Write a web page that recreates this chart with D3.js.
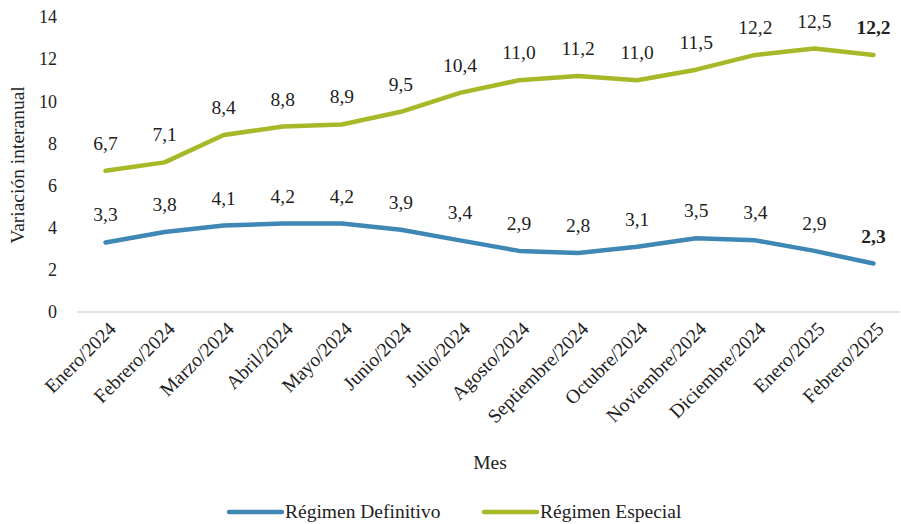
<!DOCTYPE html>
<html>
<head>
<meta charset="utf-8">
<script src="https://cdn.jsdelivr.net/npm/d3@7"></script>
<style>
body { margin:0; background:#fff; }
text { font-family: "Liberation Serif", serif; fill:#222; }
</style>
</head>
<body>
<svg width="901" height="524"></svg>
<script>
var months = ["Enero/2024","Febrero/2024","Marzo/2024","Abril/2024","Mayo/2024","Junio/2024","Julio/2024","Agosto/2024","Septiembre/2024","Octubre/2024","Noviembre/2024","Diciembre/2024","Enero/2025","Febrero/2025"]
var definitivo = [3.3,3.8,4.1,4.2,4.2,3.9,3.4,2.9,2.8,3.1,3.5,3.4,2.9,2.3]
var especial = [6.7,7.1,8.4,8.8,8.9,9.5,10.4,11.0,11.2,11.0,11.5,12.2,12.5,12.2]
var yTicks = [0,2,4,6,8,10,12,14]
var seriesNames = ["Régimen Definitivo","Régimen Especial"]
var colors = ["#3f88b6","#a7b928"]

var svg = d3.select("svg")
var plot = {left:76, right:903, top:17, bottom:312}

var xScale = d3.scalePoint()
               .domain(months)
               .range([plot.left, plot.right])
               .padding(0.5)

var yScale = d3.scaleLinear()
               .domain([0,14])
               .range([plot.bottom, plot.top])

// baseline
svg.append("line")
   .attr("x1", 77).attr("x2", 900)
   .attr("y1", yScale(0)).attr("y2", yScale(0))
   .attr("stroke","#d9d9d9").attr("stroke-width",1.5)

// y axis labels
var yAxis = d3.axisLeft(yScale).tickValues(yTicks).tickSize(0).tickPadding(0)
svg.append("g")
   .attr("transform","translate(57,0)")
   .call(yAxis)
   .call(function(g){ g.select(".domain").remove() })
   .selectAll("text")
   .attr("font-size",18)
   .attr("font-family","Liberation Serif")
   .attr("fill","#222")

// x axis labels
var xAxis = d3.axisBottom(xScale).tickSize(0).tickPadding(0)
svg.append("g")
   .attr("transform","translate(0,"+plot.bottom+")")
   .call(xAxis)
   .call(function(g){ g.select(".domain").remove() })
   .selectAll("text")
   .attr("font-size",19.5)
   .attr("font-family","Liberation Serif")
   .attr("fill","#222")
   .attr("text-anchor","end")
   .attr("dy",0)
   .attr("transform","translate(11,18) rotate(-45)")

// titles
svg.append("text")
   .attr("transform","translate(24,165) rotate(-90)")
   .attr("text-anchor","middle")
   .attr("font-size",19.5)
   .text("Variación interanual")

svg.append("text")
   .attr("x",490).attr("y",469)
   .attr("text-anchor","middle")
   .attr("font-size",19.5)
   .text("Mes")

var allSeries = [definitivo, especial]
var line = d3.line()
             .x(function(d,i){ return xScale(months[i]) })
             .y(function(d){ return yScale(d) })

allSeries.forEach(function(values, s)
{
    svg.append("path")
       .datum(values)
       .attr("d", line)
       .attr("fill","none")
       .attr("stroke", colors[s])
       .attr("stroke-width",4.5)
       .attr("stroke-linecap","round")
       .attr("stroke-linejoin","round")

    svg.selectAll(".lab"+s)
       .data(values)
       .enter()
       .append("text")
       .attr("class","lab"+s)
       .attr("x", function(d,i){ return xScale(months[i]) })
       .attr("y", function(d){ return yScale(d) - 21 })
       .attr("text-anchor","middle")
       .attr("font-size",19.5)
       .attr("font-weight", function(d,i){ return i == values.length-1 ? "bold" : "normal" })
       .text(function(d){ return d.toFixed(1).replace(".",",") })
})

// legend
var legendX = [229, 484]
seriesNames.forEach(function(name, s)
{
    svg.append("line")
       .attr("x1", legendX[s]).attr("x2", legendX[s]+53)
       .attr("y1", 512).attr("y2", 512)
       .attr("stroke", colors[s])
       .attr("stroke-width",4.5)
       .attr("stroke-linecap","round")
    svg.append("text")
       .attr("x", legendX[s]+56).attr("y", 518)
       .attr("font-size",19.5)
       .text(name)
})
</script>
</body>
</html>
